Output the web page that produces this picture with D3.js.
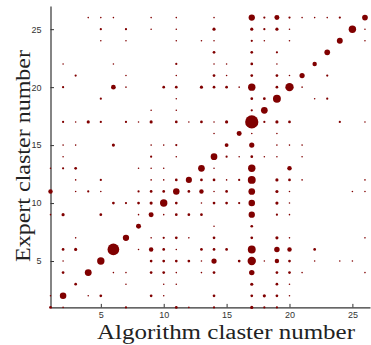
<!DOCTYPE html>
<html>
<head>
<meta charset="utf-8">
<script src="https://cdn.jsdelivr.net/npm/d3@7"></script>
<style>
  html, body { margin: 0; padding: 0; background: #fff; }
  .tick text { font-family: "Liberation Sans", Arial, sans-serif; font-size: 9px; fill: #333; }
  .axis path, .axis line { stroke: #333; }
</style>
</head>
<body>
<div id="chart"></div>
<script>
const xTicks = [5, 10, 15, 20, 25];
const yTicks = [5, 10, 15, 20, 25];

// expert cluster -> [algorithm cluster, count]
const expertRows = [
  [1,  [[1,3],[2,1],[7,2],[11,3],[12,1],[14,2],[17,4],[18,2],[19,2]]],
  [2,  [[1,1],[2,17],[4,1],[5,3],[9,3],[10,1],[14,3],[17,3],[18,4],[19,3],[20,1]]],
  [3,  [[3,3],[7,1],[10,1],[11,1],[17,4],[19,3],[20,1]]],
  [4,  [[2,3],[4,19],[6,1],[7,1],[9,3],[10,3],[11,1],[13,1],[14,3],[17,12],[19,3],[20,3],[21,1],[26,1]]],
  [5,  [[2,1],[5,22],[9,3],[10,3],[11,3],[12,3],[13,1],[14,11],[16,3],[17,28],[18,1],[19,8],[20,3],[22,1],[24,1],[25,1]]],
  [6,  [[2,3],[3,4],[6,55],[8,1],[9,8],[10,3],[11,1],[13,3],[14,3],[15,3],[17,25],[19,12],[20,8],[22,3]]],
  [7,  [[3,1],[7,16],[9,1],[10,2],[11,3],[12,1],[14,3],[17,3],[19,4],[20,1],[26,1]]],
  [8,  [[8,10],[14,1],[17,3]]],
  [9,  [[1,1],[2,4],[5,3],[8,1],[9,10],[10,1],[11,3],[12,3],[13,3],[17,16],[19,2],[20,1]]],
  [10, [[6,3],[7,2],[8,3],[9,4],[10,22],[11,3],[13,1],[14,3],[15,3],[16,2],[17,17],[19,4],[20,1]]],
  [11, [[1,8],[3,1],[4,2],[5,1],[8,2],[9,3],[10,3],[11,17],[12,3],[13,8],[14,1],[15,3],[17,18],[19,4],[20,1],[25,1],[26,1]]],
  [12, [[3,1],[5,2],[9,1],[10,1],[11,3],[12,15],[13,3],[14,3],[15,1],[16,2],[17,25],[19,4],[20,3],[21,1],[26,1]]],
  [13, [[1,1],[2,2],[3,3],[8,1],[9,1],[10,1],[13,18],[14,1],[17,22],[20,8]]],
  [14, [[2,1],[9,2],[11,1],[14,18],[15,2],[16,1],[17,3],[18,1],[19,1],[21,1]]],
  [15, [[2,1],[3,1],[6,4],[9,1],[10,1],[11,2],[15,6],[17,11],[19,1],[20,1],[21,1]]],
  [16, [[14,1],[16,10],[17,1],[19,1]]],
  [17, [[2,2],[3,1],[4,4],[5,2],[7,2],[8,1],[9,4],[11,3],[12,1],[13,3],[14,1],[15,4],[17,70],[18,2],[19,4],[20,3],[24,2],[26,1]]],
  [18, [[9,1],[11,1],[17,2],[18,18]]],
  [19, [[5,2],[11,1],[17,3],[18,3],[19,25],[22,1],[23,2]]],
  [20, [[2,2],[6,9],[7,1],[10,3],[11,3],[13,4],[14,3],[15,3],[16,1],[17,22],[19,3],[20,28],[21,1]]],
  [21, [[3,2],[7,1],[11,1],[14,3],[15,1],[17,3],[19,3],[20,1],[21,11],[23,2]]],
  [22, [[2,1],[6,1],[11,2],[14,1],[15,1],[17,3],[19,1],[22,8]]],
  [23, [[14,3],[17,3],[19,2],[23,13]]],
  [24, [[5,1],[7,1],[11,1],[13,1],[14,1],[17,2],[18,1],[20,1],[24,14],[26,1]]],
  [25, [[5,2],[7,2],[9,1],[11,1],[14,4],[17,4],[18,2],[19,4],[20,1],[25,22],[26,1]]],
  [26, [[4,1],[5,1],[6,1],[9,1],[11,1],[14,1],[17,16],[18,2],[19,10],[20,2],[21,1],[22,1],[23,1],[24,2],[26,13]]]
];

const width = 371, height = 345;
const margin = { top: 6, right: 1, bottom: 37.6, left: 50.5 };

const points = [];
expertRows.forEach(([expert, cells]) => {
  cells.forEach(([alg, n]) => points.push({ alg, expert, n }));
});

const svg = d3.select("#chart").append("svg")
  .attr("width", width)
  .attr("height", height);

const x = d3.scaleLinear().domain([1, 26.4]).range([margin.left, width - margin.right]);
const y = d3.scaleLinear().domain([1, 27]).range([height - margin.bottom, margin.top]);
const r = d3.scaleSqrt().domain([0, 70]).range([0, 6.6]);

svg.append("g")
  .attr("class", "axis")
  .attr("transform", `translate(0,${height - margin.bottom})`)
  .call(d3.axisBottom(x).tickValues(xTicks).tickSizeInner(-3.5).tickSizeOuter(0).tickPadding(4));

svg.append("g")
  .attr("class", "axis")
  .attr("transform", `translate(${margin.left},0)`)
  .call(d3.axisLeft(y).tickValues(yTicks).tickSizeInner(-3.5).tickSizeOuter(0).tickPadding(9));

svg.selectAll(".axis .domain").attr("stroke-width", 1.2);

svg.append("g")
  .selectAll("circle")
  .data(points)
  .join("circle")
  .attr("cx", d => x(d.alg))
  .attr("cy", d => y(d.expert))
  .attr("r", d => r(d.n))
  .attr("fill", "#800000");

svg.append("text")
  .attr("x", 226)
  .attr("y", 338.5)
  .attr("text-anchor", "middle")
  .attr("font-family", "'Liberation Serif', 'DejaVu Serif', serif")
  .attr("font-size", 20)
  .attr("fill", "#222")
  .attr("textLength", 258)
  .attr("lengthAdjust", "spacingAndGlyphs")
  .text("Algorithm claster number");

svg.append("text")
  .attr("transform", "translate(29.5,156) rotate(-90)")
  .attr("text-anchor", "middle")
  .attr("font-family", "'Liberation Serif', 'DejaVu Serif', serif")
  .attr("font-size", 20)
  .attr("fill", "#222")
  .attr("textLength", 212)
  .attr("lengthAdjust", "spacingAndGlyphs")
  .text("Expert claster number");
</script>
</body>
</html>
